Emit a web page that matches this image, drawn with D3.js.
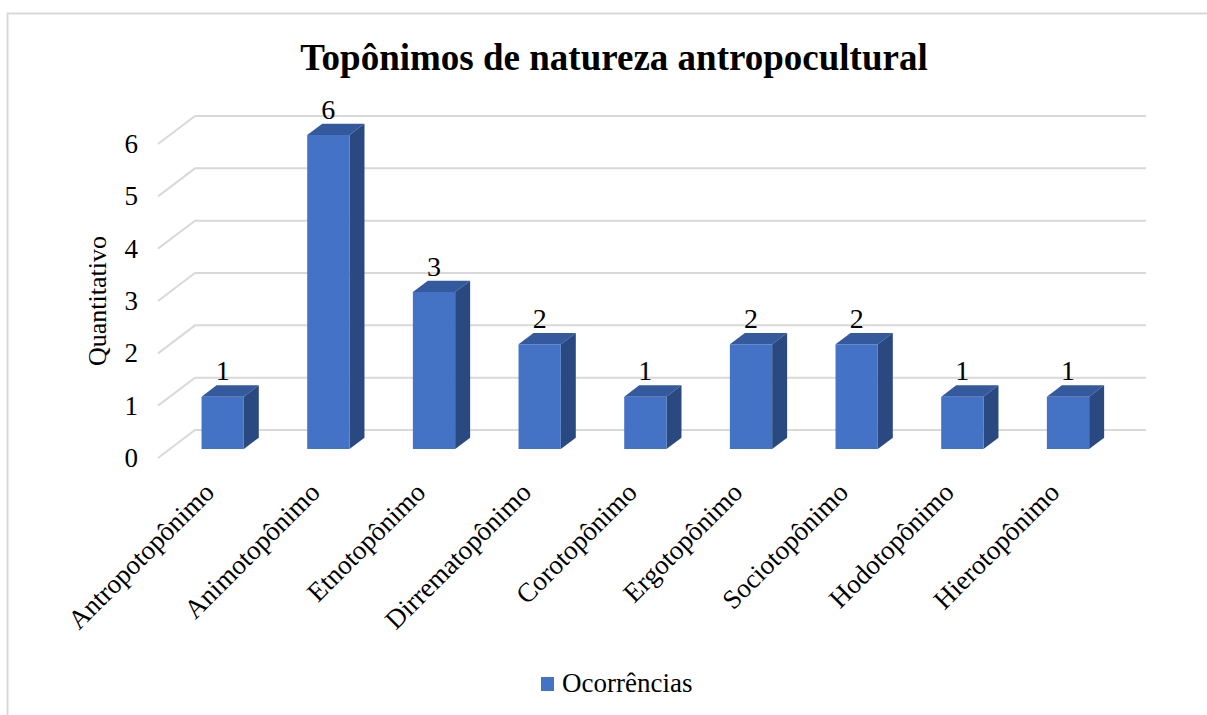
<!DOCTYPE html>
<html>
<head>
<meta charset="utf-8">
<script src="https://cdn.jsdelivr.net/npm/d3@7"></script>
<style>
  body { margin: 0; background: #fff; }
  text { font-family: "Liberation Serif", "Times New Roman", serif; fill: #000; }
</style>
</head>
<body>
<div id="chart"></div>
<script>
// data
const categories = ["Antropotopônimo", "Animotopônimo", "Etnotopônimo", "Dirrematopônimo",
                    "Corotopônimo", "Ergotopônimo", "Sociotopônimo", "Hodotopônimo", "Hierotopônimo"];
const values = [1, 6, 3, 2, 1, 2, 2, 1, 1];
const yTicks = [0, 1, 2, 3, 4, 5, 6];
const seriesName = "Ocorrências";

const W = 1207, H = 715;
const serif = "'Liberation Serif', 'Times New Roman', serif";
// floor of the 3D box: front-left corner and depth vector
const x0 = 158, y0 = 458, depthX = 37, depthY = -28;

const svg = d3.select("#chart").append("svg")
    .attr("width", W)
    .attr("height", H)
    .style("font-family", serif);

// outer border (runs off right and bottom)
svg.append("rect")
    .attr("x", 7.5).attr("y", 13.5)
    .attr("width", 1220).attr("height", 720)
    .attr("fill", "none")
    .attr("stroke", "#d9d9d9")
    .attr("stroke-width", 2);

const x = d3.scaleBand()
    .domain(categories)
    .range([x0, 1109])
    .padding(0);

const y = d3.scaleLinear()
    .domain([0, 6])
    .range([y0, y0 - 314]);

// gridlines: diagonal on the left wall + back line
const grid = svg.append("g");
yTicks.forEach(t => {
  grid.append("path")
      .attr("d", `M${x0},${y(t)} L${x0 + depthX},${y(t) + depthY} L${x.range()[1] + depthX},${y(t) + depthY}`)
      .attr("fill", "none")
      .attr("stroke", "#d9d9d9")
      .attr("stroke-width", 2);
});

// y tick labels
svg.append("g")
    .attr("transform", `translate(138,0)`)
    .call(d3.axisLeft(y).tickValues(yTicks).tickFormat(d3.format("d")).tickSize(0).tickPadding(0))
    .attr("font-family", serif)
    .attr("font-size", 27)
    .call(g => g.select(".domain").remove())
    .selectAll("text")
    .attr("fill", "#000");

// bars
const barW = x.bandwidth() / 2.5;
const f0 = 0.32, f1 = 0.32 + 15 / 37;
const P = (px, py, f) => [px + depthX * f, py + depthY * f];

const bars = svg.append("g").selectAll("g")
    .data(categories.map((c, i) => ({ c, v: values[i] })))
    .join("g");

bars.each(function(d) {
  const g = d3.select(this);
  const xl = x(d.c) + x.bandwidth() / 2 - barW / 2, xr = xl + barW;
  const yb = y(0), yt = y(d.v);
  const poly = pts => pts.map(p => p.join(",")).join(" ");
  // top
  g.append("polygon")
      .attr("points", poly([P(xl, yt, f0), P(xr, yt, f0), P(xr, yt, f1), P(xl, yt, f1)]))
      .attr("fill", "#34599c");
  // side
  g.append("polygon")
      .attr("points", poly([P(xr, yt, f0), P(xr, yt, f1), P(xr, yb, f1), P(xr, yb, f0)]))
      .attr("fill", "#2b4981");
  // front
  g.append("polygon")
      .attr("points", poly([P(xl, yt, f0), P(xr, yt, f0), P(xr, yb, f0), P(xl, yb, f0)]))
      .attr("fill", "#4472c4");
  // value label
  const lp = P((xl + xr) / 2, yt, f0);
  g.append("text")
      .attr("x", lp[0])
      .attr("y", y(d.v) + depthY * f1 - 5)
      .attr("text-anchor", "middle")
      .attr("font-family", serif)
      .attr("font-size", 28)
      .text(d.v);
});

// category labels, rotated
svg.append("g").selectAll("text")
    .data(categories)
    .join("text")
    .attr("transform", d => `translate(${x(d) + x.bandwidth() / 2 + 5},${494}) rotate(-45)`)
    .attr("text-anchor", "end")
    .attr("font-family", serif)
    .attr("font-size", 27)
    .text(d => d);

// y axis title
svg.append("text")
    .attr("transform", "translate(106,301) rotate(-90)")
    .attr("text-anchor", "middle")
    .attr("font-family", serif)
    .attr("font-size", 26)
    .text("Quantitativo");

// title
svg.append("text")
    .attr("x", 614)
    .attr("y", 70)
    .attr("text-anchor", "middle")
    .attr("font-family", serif)
    .attr("font-size", 37)
    .attr("font-weight", "bold")
    .text("Topônimos de natureza antropocultural");

// legend
const legend = svg.append("g").attr("transform", "translate(541,677)");
legend.append("rect")
    .attr("width", 13).attr("height", 14)
    .attr("fill", "#4472c4");
legend.append("text")
    .attr("x", 21).attr("y", 15)
    .attr("font-family", serif)
    .attr("font-size", 27)
    .text(seriesName);
</script>
</body>
</html>
